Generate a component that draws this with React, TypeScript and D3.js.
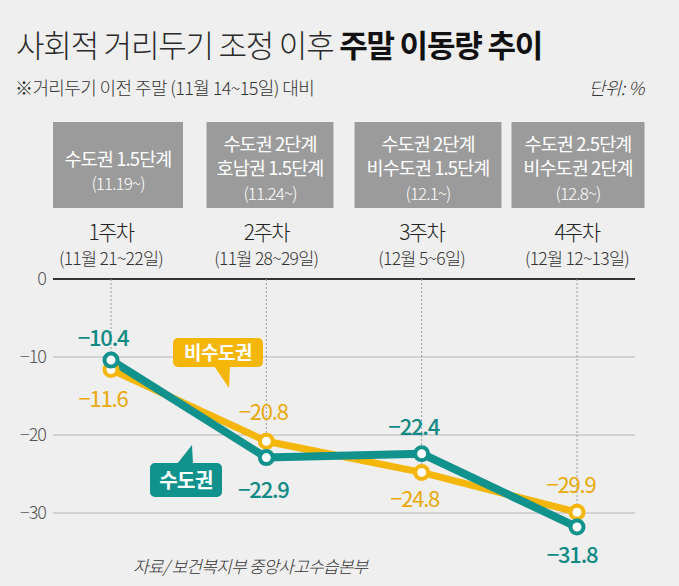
import React from "react";
import * as d3 from "d3";

// ---- data ----
const weeks = ["1주차", "2주차", "3주차", "4주차"];
const weekDates = ["(11월 21~22일)", "(11월 28~29일)", "(12월 5~6일)", "(12월 12~13일)"];
const stageNotes = [
  ["수도권 1.5단계", "(11.19~)"],
  ["수도권 2단계", "호남권 1.5단계", "(11.24~)"],
  ["수도권 2단계", "비수도권 1.5단계", "(12.1~)"],
  ["수도권 2.5단계", "비수도권 2단계", "(12.8~)"],
];
const capital = [-10.4, -22.9, -22.4, -31.8]; // 수도권
const nonCapital = [-11.6, -20.8, -24.8, -29.9]; // 비수도권
const yTicks = [0, -10, -20, -30];

const title1 = "사회적 거리두기 조정 이후 ";
const title2 = "주말 이동량 추이";
const subtitle = "※거리두기 이전 주말 (11월 14~15일) 대비";
const unit = "단위: %";
const source = "자료/ 보건복지부 중앙사고수습본부";

// ---- layout ----
const W = 679, H = 586;
const TEAL = "#12928d";
const YELLOW = "#f5b60a";
const TEAL_TXT = "#0f8a85";
const YELLOW_TXT = "#e9a90a";
const FONT = "'Noto Sans CJK KR', 'Noto Sans', sans-serif";

const boxCenters = [118, 270, 428, 578];
const boxWidths = [130, 127, 147, 133];
const capOffsets = [[-8, -14], [-3, 40], [-8, -19], [-5, 36]];
const nonOffsets = [[-8, 38], [-3, -21], [-7, 35], [-6, -19]];

export default function App() {
  const x = d3.scalePoint<string>().domain(weeks).range([111, 577]);
  const y = d3.scaleLinear().domain([0, -30]).range([279, 513]);
  const line = d3
    .line<number>()
    .x((_, i) => x(weeks[i]) as number)
    .y((d) => y(d));

  const fmt = (v: number) => "−" + Math.abs(v).toFixed(1);

  return (
    <div style={{ position: "fixed", left: 0, top: 0, width: W, height: H }}>
      <svg width={W} height={H} style={{ display: "block", fontFamily: FONT }}>
        <rect width={W} height={H} fill="#efefef" />

        {/* title */}
        <text x={16} y={57} fontSize={31} letterSpacing={-1.2} fill="#2a2a2a">
          <tspan fontWeight={300}>{title1}</tspan>
          <tspan fontWeight={700} fill="#111">{title2}</tspan>
        </text>
        <text x={15} y={95} fontSize={18} letterSpacing={-0.6} fill="#333" fontWeight={300}>
          {subtitle}
        </text>
        <text x={644} y={95} fontSize={18} textAnchor="end" fill="#333" fontStyle="italic" letterSpacing={-0.5} fontWeight={300}>
          {unit}
        </text>

        {/* stage boxes */}
        {stageNotes.map((lines, i) => {
          const n = lines.length;
          const mid = n === 2 ? 178 : 175;
          const first = mid - ((n - 1) * 24.5) / 2;
          return (
            <g key={"box" + i}>
              <rect
                x={boxCenters[i] - boxWidths[i] / 2}
                y={122}
                width={boxWidths[i]}
                height={86}
                fill="#9b9b9b"
              />
              {lines.map((t, j) => (
                <text
                  key={j}
                  x={boxCenters[i]}
                  y={first + j * 24.5}
                  textAnchor="middle"
                  fontSize={j === n - 1 ? 17 : 18.5}
                  fontWeight={j === n - 1 ? 300 : 400}
                  letterSpacing={-0.9}
                  fill="#fff"
                >
                  {t}
                </text>
              ))}
            </g>
          );
        })}

        {/* week labels */}
        {weeks.map((w, i) => (
          <g key={"wk" + i}>
            <text x={x(w)} y={240} textAnchor="middle" fontSize={21} fontWeight={300} letterSpacing={-1.6} fill="#222">
              {w}
            </text>
            <text x={x(w)} y={265} textAnchor="middle" fontSize={17.5} fontWeight={300} letterSpacing={-0.7} fill="#333">
              {weekDates[i]}
            </text>
          </g>
        ))}

        {/* grid */}
        {yTicks.map((t) => (
          <g key={"t" + t}>
            {t !== 0 && (
              <line x1={53} x2={635} y1={y(t)} y2={y(t)} stroke="#c9c9c9" strokeWidth={1.5} />
            )}
            <text x={46} y={y(t)} dy="0.35em" textAnchor="end" fontSize={18} fontWeight={300} letterSpacing={-1} fill="#555">
              {t === 0 ? "0" : "−" + Math.abs(t)}
            </text>
          </g>
        ))}
        <line x1={53} x2={635} y1={y(0)} y2={y(0)} stroke="#333" strokeWidth={2} />

        {/* dotted guides */}
        {weeks.map((w, i) => (
          <line
            key={"g" + i}
            x1={x(w)}
            x2={x(w)}
            y1={y(0)}
            y2={y(Math.min(capital[i], nonCapital[i]))}
            stroke="#9a9a9a"
            strokeWidth={1}
            strokeDasharray="2,2"
          />
        ))}

        {/* lines */}
        <path d={line(nonCapital) || ""} fill="none" stroke={YELLOW} strokeWidth={7} strokeLinejoin="round" />
        <path d={line(capital) || ""} fill="none" stroke={TEAL} strokeWidth={8} strokeLinejoin="round" />

        {nonCapital.map((v, i) => (
          <circle key={"nc" + i} cx={x(weeks[i])} cy={y(v)} r={6.5} fill="#fff" stroke={YELLOW} strokeWidth={4} />
        ))}
        {capital.map((v, i) => (
          <circle key={"c" + i} cx={x(weeks[i])} cy={y(v)} r={6.5} fill="#fff" stroke={TEAL} strokeWidth={4} />
        ))}

        {/* value labels */}
        {nonCapital.map((v, i) => (
          <text
            key={"nl" + i}
            x={(x(weeks[i]) as number) + nonOffsets[i][0]}
            y={y(v) + nonOffsets[i][1]}
            textAnchor="middle"
            fontSize={22}
            letterSpacing={-1.2}
            fill={YELLOW_TXT}
          >
            {fmt(v)}
          </text>
        ))}
        {capital.map((v, i) => (
          <text
            key={"cl" + i}
            x={(x(weeks[i]) as number) + capOffsets[i][0]}
            y={y(v) + capOffsets[i][1]}
            textAnchor="middle"
            fontSize={22}
            fontWeight={500}
            letterSpacing={-1.2}
            fill={TEAL_TXT}
          >
            {fmt(v)}
          </text>
        ))}

        {/* callouts */}
        <g>
          <rect x={173} y={338} width={90} height={29} rx={5} fill={YELLOW} />
          <path d="M214,366 L230,366 L229,388 Z" fill={YELLOW} />
          <text x={218} y={360} textAnchor="middle" fontSize={19} fontWeight={700} fill="#fff" letterSpacing={-0.5}>
            비수도권
          </text>
        </g>
        <g>
          <rect x={150} y={463} width={72} height={34} rx={5} fill={TEAL} />
          <path d="M177,464 L193,464 L192,445 Z" fill={TEAL} />
          <text x={186} y={488} textAnchor="middle" fontSize={20} fontWeight={700} fill="#fff" letterSpacing={-0.5}>
            수도권
          </text>
        </g>

        {/* source */}
        <text x={133} y={573} fontSize={17} fontStyle="italic" fontWeight={300} letterSpacing={-0.8} fill="#333">
          {source}
        </text>
      </svg>
    </div>
  );
}
